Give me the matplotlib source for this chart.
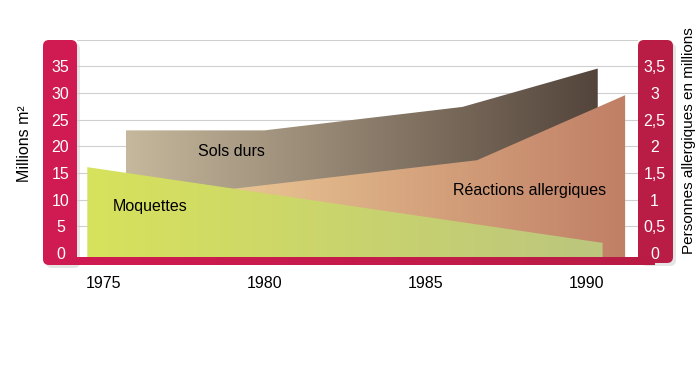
import numpy as np
import matplotlib.pyplot as plt
from matplotlib.patches import Polygon, FancyBboxPatch
from matplotlib.colors import LinearSegmentedColormap

plt.rcParams['font.family'] = ['Liberation Sans', 'DejaVu Sans']

# data
moq_years = [1974.5, 1990.5]
moq_vals = [16.1, 1.9]                 # millions m2
sols_years = [1975.7, 1980.0, 1986.15, 1990.35]
sols_vals = [23.0, 23.0, 27.4, 34.6]   # millions m2
reac_years = [1976.0, 1986.6, 1991.2]
reac_vals = [0.99, 1.74, 2.96]         # millions de personnes

year_ticks = [1975, 1980, 1985, 1990]
left_ticks = [0, 5, 10, 15, 20, 25, 30, 35]
right_ticks = [0, 0.5, 1, 1.5, 2, 2.5, 3, 3.5]
right_labels = ['0', '0,5', '1', '1,5', '2', '2,5', '3', '3,5']

W, H = 700, 386
fig = plt.figure(figsize=(7, 3.86), dpi=100)

# background frame in pixel coords
bg = fig.add_axes([0, 0, 1, 1])
bg.set_xlim(0, W)
bg.set_ylim(H, 0)
bg.axis('off')
for x0, w, h in [(43, 34, 225), (638, 35, 223)]:
    bg.add_patch(FancyBboxPatch((x0 + 3, 43), w, h, boxstyle="round,pad=0,rounding_size=6",
                                fc='#999999', ec='none', alpha=0.25))
bg.add_patch(FancyBboxPatch((43, 40), 34, 225, boxstyle="round,pad=0,rounding_size=6",
                            fc='#d01a52', ec='none'))
bg.add_patch(FancyBboxPatch((638, 40), 35, 223, boxstyle="round,pad=0,rounding_size=6",
                            fc='#b91c45', ec='none'))
bar_cmap = LinearSegmentedColormap.from_list('bar', ['#d01a52', '#b91c45'])
bg.imshow(np.linspace(0, 1, 256).reshape(1, -1), cmap=bar_cmap, aspect='auto',
          extent=[60, 655, 265, 257], zorder=3)
bg.set_xlim(0, W)
bg.set_ylim(H, 0)

# plot area
ax = fig.add_axes([77 / W, 1 - 257 / H, (638 - 77) / W, (257 - 40) / H])
ax.set_facecolor('none')
xlim = (1974.18, 1991.6)
ylim = (-0.75, 39.95)


def grad_fill(xs, ys, c0, c1, z):
    xs = [xs[0]] + list(xs) + [xs[-1]]
    ys = [ylim[0]] + list(ys) + [ylim[0]]
    poly = Polygon(np.column_stack([xs, ys]), closed=True, fc='none', ec='none')
    ax.add_patch(poly)
    cmap = LinearSegmentedColormap.from_list('g', [c0, c1])
    im = ax.imshow(np.linspace(0, 1, 256).reshape(1, -1), cmap=cmap, aspect='auto',
                   extent=[min(xs), max(xs), min(ys), max(ys)], origin='lower', zorder=z)
    im.set_clip_path(poly)


for v in range(5, 45, 5):
    ax.axhline(v, color='#cfcfcf', lw=0.8, zorder=1)

grad_fill(sols_years, sols_vals, '#c6b89c', '#54453c', 2)
grad_fill(reac_years, [v * 10 for v in reac_vals], '#f3d69e', '#c07f66', 3)
grad_fill(moq_years, moq_vals, '#d7e25c', '#bcc67e', 4)

ax.text(1978.99, 19.1, 'Sols durs', fontsize=11.5, ha='center', va='center', zorder=5)
ax.text(1976.44, 8.8, 'Moquettes', fontsize=11.5, ha='center', va='center', zorder=5)
ax.text(1988.24, 11.8, 'Réactions allergiques', fontsize=11.5, ha='center', va='center', zorder=5)

ax.set_xlim(*xlim)
ax.set_ylim(*ylim)
for s in ax.spines.values():
    s.set_visible(False)

ax.set_xticks(year_ticks)
ax.set_xticklabels([str(y) for y in year_ticks], fontsize=11.5)
ax.tick_params(axis='x', length=0, pad=14)

ax.set_yticks(left_ticks)
ax.set_yticklabels([str(t) for t in left_ticks], fontsize=11.5, color='white')
ax.tick_params(axis='y', length=0, pad=12)
for lab in ax.get_yticklabels():
    lab.set_horizontalalignment('center')

sec = ax.secondary_yaxis('right', functions=(lambda v: v / 10, lambda v: v * 10))
sec.set_yticks(right_ticks)
sec.set_yticklabels(right_labels, fontsize=11.5, color='white')
sec.tick_params(axis='y', length=0, pad=12)
for lab in sec.get_yticklabels():
    lab.set_horizontalalignment('center')
for s in sec.spines.values():
    s.set_visible(False)

fig.text(25 / W, 1 - 144 / H, 'Millions m²', rotation=90, fontsize=11.5, ha='center', va='center')
fig.text(689 / W, 1 - 141 / H, 'Personnes allergiques en millions', rotation=90, fontsize=11,
         ha='center', va='center')

fig.savefig('out.png', dpi=100)
